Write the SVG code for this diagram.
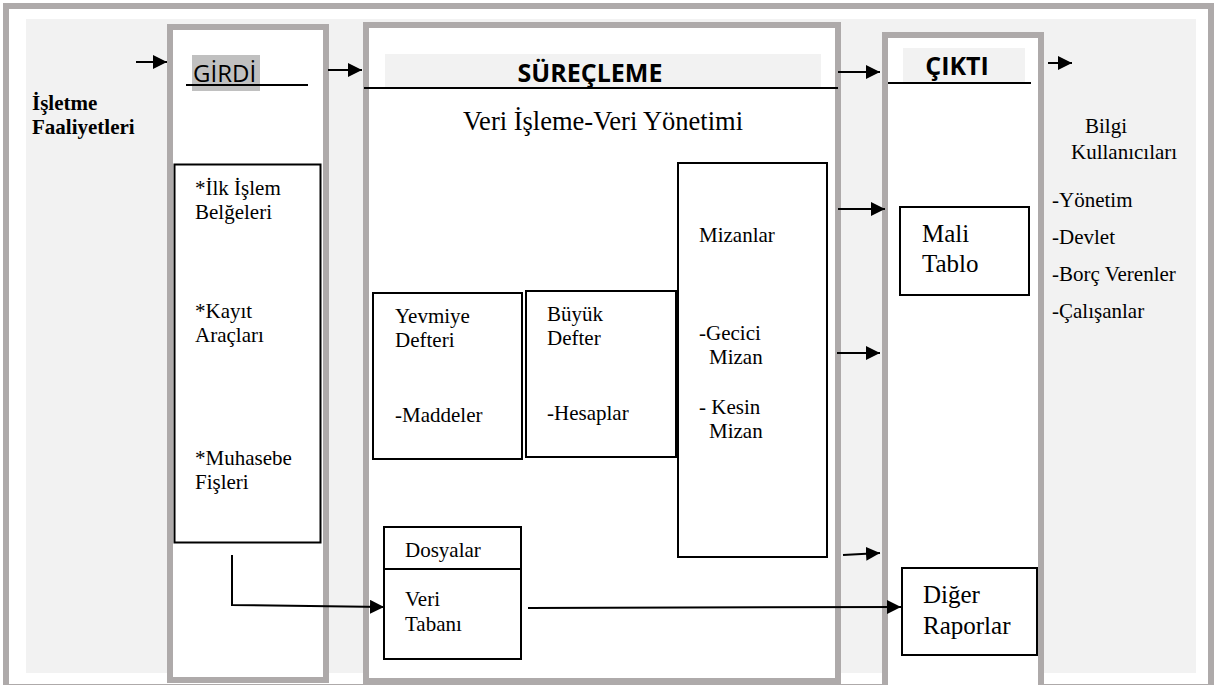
<svg xmlns="http://www.w3.org/2000/svg" width="1215" height="685" viewBox="0 0 1215 685">
<defs>
<marker id="ah" markerUnits="userSpaceOnUse" markerWidth="15" markerHeight="14" refX="14" refY="7" orient="auto">
<path d="M0,0 L14,7 L0,14 z" fill="#000"/>
</marker>
<style>
.col{fill:#fff;stroke:#aeaaaa;stroke-width:6}
.box{fill:#fff;stroke:#000;stroke-width:2}
.t{font-family:"Liberation Serif","Times New Roman",serif;font-size:21px;fill:#000}
.tb{font-family:"Liberation Serif","Times New Roman",serif;font-size:21px;font-weight:bold;fill:#000}
.big{font-size:25px}
.h{font-family:"Open Sans","Noto Sans",sans-serif;fill:#000}
.ln{stroke:#000;stroke-width:2;fill:none}
.ar{stroke:#000;stroke-width:2;fill:none;marker-end:url(#ah)}
</style>
</defs>
<rect x="6" y="6" width="1205" height="681" fill="#fff" stroke="#aeaaaa" stroke-width="6"/>
<rect x="26" y="19" width="1170" height="654" fill="#f2f2f2"/>

<g id="isletme">
<text class="tb" x="32" y="110">İşletme</text>
<text class="tb" x="32" y="134">Faaliyetleri</text>
</g>

<g id="girdi">
<rect class="col" x="170" y="27" width="156" height="653"/>
<rect x="192" y="55" width="68" height="36" fill="#c0c0c0"/>
<text class="h" x="193" y="82" font-size="24">GİRDİ</text>
<line class="ln" x1="186" y1="85" x2="308" y2="85"/>
</g>

<g id="girdi-list">
<rect class="box" x="174.5" y="164.5" width="146" height="378"/>
<text class="t" x="195" y="195">*İlk İşlem</text>
<text class="t" x="195" y="219">Belğeleri</text>
<text class="t" x="195" y="318">*Kayıt</text>
<text class="t" x="195" y="342">Araçları</text>
<text class="t" x="195" y="465">*Muhasebe</text>
<text class="t" x="195" y="489">Fişleri</text>
</g>

<g id="surecleme">
<rect class="col" x="366" y="25" width="472" height="656"/>
<rect x="385" y="54" width="436" height="33" fill="#f2f2f2"/>
<text class="h" x="590" y="82" font-size="25" font-weight="bold" text-anchor="middle">SÜREÇLEME</text>
<line class="ln" x1="364" y1="88" x2="838" y2="88"/>
<text class="t" x="603" y="130" font-size="26.5" text-anchor="middle" style="font-size:26.5px">Veri İşleme-Veri Yönetimi</text>
</g>

<g id="yevmiye">
<rect class="box" x="373" y="293" width="149" height="166"/>
<text class="t" x="395" y="323">Yevmiye</text>
<text class="t" x="395" y="347">Defteri</text>
<text class="t" x="395" y="422">-Maddeler</text>
</g>

<g id="buyuk">
<rect class="box" x="526" y="291" width="150" height="166"/>
<text class="t" x="547" y="321">Büyük</text>
<text class="t" x="547" y="345">Defter</text>
<text class="t" x="547" y="420">-Hesaplar</text>
</g>

<g id="mizanlar">
<rect class="box" x="678" y="163" width="149" height="394"/>
<text class="t" x="699" y="242">Mizanlar</text>
<text class="t" x="699" y="340">-Gecici</text>
<text class="t" x="709" y="364">Mizan</text>
<text class="t" x="699" y="414">- Kesin</text>
<text class="t" x="709" y="438">Mizan</text>
</g>

<g id="dosyalar">
<rect class="box" x="384" y="527" width="137" height="132"/>
<line class="ln" x1="384" y1="569" x2="521" y2="569"/>
<text class="t" x="405" y="557">Dosyalar</text>
<text class="t" x="405" y="606">Veri</text>
<text class="t" x="405" y="631">Tabanı</text>
</g>

<g id="cikti">
<rect class="col" x="885" y="35" width="156" height="670"/>
<rect x="903" y="48" width="122" height="34" fill="#f2f2f2"/>
<text class="h" x="957" y="75" font-size="25" font-weight="bold" text-anchor="middle">ÇIKTI</text>
<line class="ln" x1="888" y1="83" x2="1031" y2="83"/>
</g>

<g id="mali-tablo">
<rect class="box" x="900" y="207" width="129" height="88"/>
<text class="t big" x="922" y="242">Mali</text>
<text class="t big" x="922" y="272">Tablo</text>
</g>

<g id="diger-raporlar">
<rect class="box" x="902" y="568" width="135" height="87"/>
<text class="t big" x="923" y="603">Diğer</text>
<text class="t big" x="923" y="634">Raporlar</text>
</g>

<g id="bilgi">
<text class="t" x="1085" y="133">Bilgi</text>
<text class="t" x="1071" y="159">Kullanıcıları</text>
<text class="t" x="1052" y="207">-Yönetim</text>
<text class="t" x="1052" y="244">-Devlet</text>
<text class="t" x="1052" y="281">-Borç Verenler</text>
<text class="t" x="1052" y="318">-Çalışanlar</text>
</g>

<g id="connectors">
<line class="ar" x1="136" y1="62" x2="167" y2="62"/>
<line class="ar" x1="328" y1="70" x2="362" y2="70"/>
<line class="ar" x1="838" y1="72" x2="880" y2="72"/>
<line class="ar" x1="1048" y1="63" x2="1072" y2="63"/>
<line class="ar" x1="838" y1="209" x2="885" y2="209"/>
<line class="ar" x1="837" y1="353" x2="880" y2="353"/>
<line class="ar" x1="843" y1="555" x2="880" y2="553"/>
<path class="ar" d="M232,555 L232,605 L384,607"/>
<line class="ar" x1="528" y1="608" x2="901" y2="607"/>
</g>
</svg>
